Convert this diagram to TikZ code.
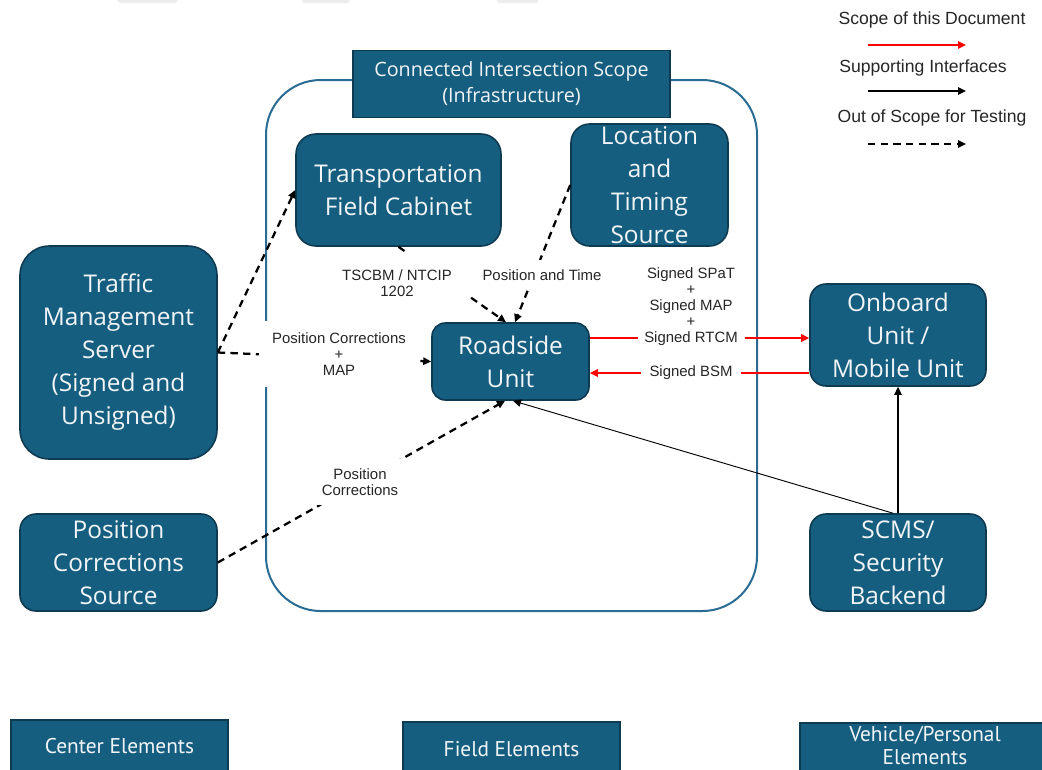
\documentclass[tikz,border=0pt]{standalone}
\usepackage{fontspec}
\setmainfont{Open Sans}
\newfontfamily\arialf{Liberation Sans}
\newfontfamily\narrowf{PT Sans}
\usetikzlibrary{arrows.meta}
\definecolor{boxfill}{HTML}{165E80}
\definecolor{boxline}{HTML}{0F3B52}
\definecolor{scopeline}{HTML}{2A6C93}
\definecolor{boxtext}{HTML}{F2F5F7}
\definecolor{redline}{HTML}{FF0000}
\definecolor{topgray}{HTML}{EDEDED}
\def\u{0.75pt}
\begin{document}
\begin{tikzpicture}[x=0.75pt,y=-0.75pt,
  blk/.style={draw=boxline, line width=1.2pt, fill=boxfill, text=boxtext,
    inner sep=0pt, align=center, font=\fontsize{18.3}{24.75}\selectfont},
  titlebox/.style={draw=boxline, line width=1.2pt, fill=boxfill, text=boxtext,
    inner sep=0pt, align=center, font=\fontsize{14.8}{19.5}\selectfont},
  botbox/.style={draw=boxline, line width=1.2pt, fill=boxfill, inner sep=0pt},
  bottext/.style={text=boxtext, align=center, inner sep=0pt,
    font=\narrowf\fontsize{16}{17.5}\selectfont},
  lbl/.style={fill=white, inner sep=0pt, align=center, text=black!85,
    font=\arialf\fontsize{11.2}{12}\selectfont},
  legtext/.style={inner sep=0pt, text=black!85, font=\arialf\fontsize{13.2}{15}\selectfont},
  tip/.style={-{Triangle[length=6pt,width=5.5pt]}},
  oos/.style={tip, line width=1.7pt, dash pattern=on 5.5pt off 4pt},
  supthin/.style={tip, line width=0.7pt},
  sup/.style={tip, line width=1.1pt},
  inscope/.style={tip, line width=1.5pt, draw=redline, -{Triangle[length=6pt,width=5.5pt,fill=redline]}},
]
\clip (0,0) rectangle (1042,769);
\fill[white] (0,0) rectangle (1042,769);

% faint gray shapes at the top edge
\fill[topgray] (117,0) -- (178,0) -- (175,3) -- (120,3) -- cycle;
\fill[topgray] (302,0) -- (350,0) -- (348,3) -- (303,3) -- cycle;
\fill[topgray] (497,0) -- (538,0) -- (537,3) -- (498,3) -- cycle;

% scope
\node[draw=scopeline, line width=1.5pt, rounded corners=41pt, inner sep=0pt,
  minimum width=491*\u, minimum height=531*\u] (scope) at (511.5,345.5) {};
\node[titlebox, minimum width=317*\u, minimum height=67*\u] (title) at (511.5,84)
  {Connected Intersection Scope\\(Infrastructure)};

% boxes
\node[blk, rounded corners=15pt, minimum width=205*\u, minimum height=112*\u] (tfc) at (398.5,190)
  {Transportation\\Field Cabinet};
\node[blk, rounded corners=14pt, minimum width=157*\u, minimum height=122*\u] (lts) at (649.5,185)
  {Location\\and\\Timing\\Source};
\node[blk, rounded corners=22pt, minimum width=197*\u, minimum height=213*\u] (tms) at (118.5,352.5)
  {Traffic\\Management\\Server\\(Signed and\\Unsigned)};
\node[blk, rounded corners=10pt, minimum width=157*\u, minimum height=77*\u] (rsu) at (510.5,361.5)
  {Roadside\\Unit};
\node[blk, rounded corners=12pt, minimum width=176*\u, minimum height=102*\u] (obu) at (898,335)
  {Onboard\\Unit /\\Mobile Unit};
\node[blk, rounded corners=12pt, minimum width=176*\u, minimum height=97*\u] (scms) at (898,562.5)
  {SCMS/\\Security\\Backend};
\node[blk, rounded corners=12pt, minimum width=197*\u, minimum height=97*\u] (pcs) at (118.5,562.5)
  {Position\\Corrections\\Source};

% bottom category boxes
\node[botbox, minimum width=217*\u, minimum height=80*\u] (cebox) at (119.5,760) {};
\node[bottext] (cetext) at (119.5,746) {Center Elements};
\node[botbox, minimum width=217*\u, minimum height=80*\u] (febox) at (511.5,762) {};
\node[bottext] (fetext) at (511.5,749) {Field Elements};
\node[botbox, minimum width=250*\u, minimum height=80*\u] (vpbox) at (925,763) {};
\node[bottext] (vptext) at (925,745.5) {Vehicle/Personal\\Elements};

% connectors
\draw[oos] (tms.east) -- (tfc.west);
\draw[oos] (tms.east) -- (rsu.west);
\draw[oos] (tfc.south) -- (rsu.north -| 506,0);
\draw[oos] (lts.west) -- (rsu.north -| 515,0);
\draw[oos] (pcs.east) -- (rsu.south -| 505,0);
\draw[supthin] (scms.north -| 893,0) -- (rsu.south -| 513,0);
\draw[sup] (scms.north) -- (obu.south);
\draw[inscope] (rsu.east |- 0,338) -- (obu.west |- 0,338);
\draw[inscope] (obu.west |- 0,373) -- (rsu.east |- 0,373);

% connector labels
\node[lbl, minimum width=160*\u, minimum height=66*\u] (lpcm) at (339,354)
  {Position Corrections\\+\\MAP};
\node[lbl, minimum width=142*\u, minimum height=60*\u] (ltscbm) at (397,283)
  {TSCBM / NTCIP\\1202};
\node[lbl, minimum width=112*\u, minimum height=30*\u] (lpat) at (542,275)
  {Position and Time};
\node[lbl, minimum width=107*\u, minimum height=86*\u] (lspat) at (691,307)
  {Signed SPaT\\+\\Signed MAP\\+\\Signed RTCM};
\node[lbl, minimum width=100*\u, minimum height=18*\u] (lbsm) at (691,373)
  {Signed BSM};
\node[lbl, minimum width=86*\u, minimum height=46*\u] (lpc) at (360,482)
  {Position\\Corrections};

% legend
\node[legtext] (leg1) at (932,20) {Scope of this Document};
\coordinate (l1a) at (868,45);
\coordinate (l1b) at (966,45);
\draw[inscope] (l1a) -- (l1b);
\node[legtext] (leg2) at (923,68) {Supporting Interfaces};
\coordinate (l2a) at (868,91);
\coordinate (l2b) at (966,91);
\draw[sup, line width=1.5pt] (l2a) -- (l2b);
\node[legtext] (leg3) at (932,118) {Out of Scope for Testing};
\coordinate (l3a) at (868,144);
\coordinate (l3b) at (966,144);
\draw[oos] (l3a) -- (l3b);
\end{tikzpicture}
\end{document}
